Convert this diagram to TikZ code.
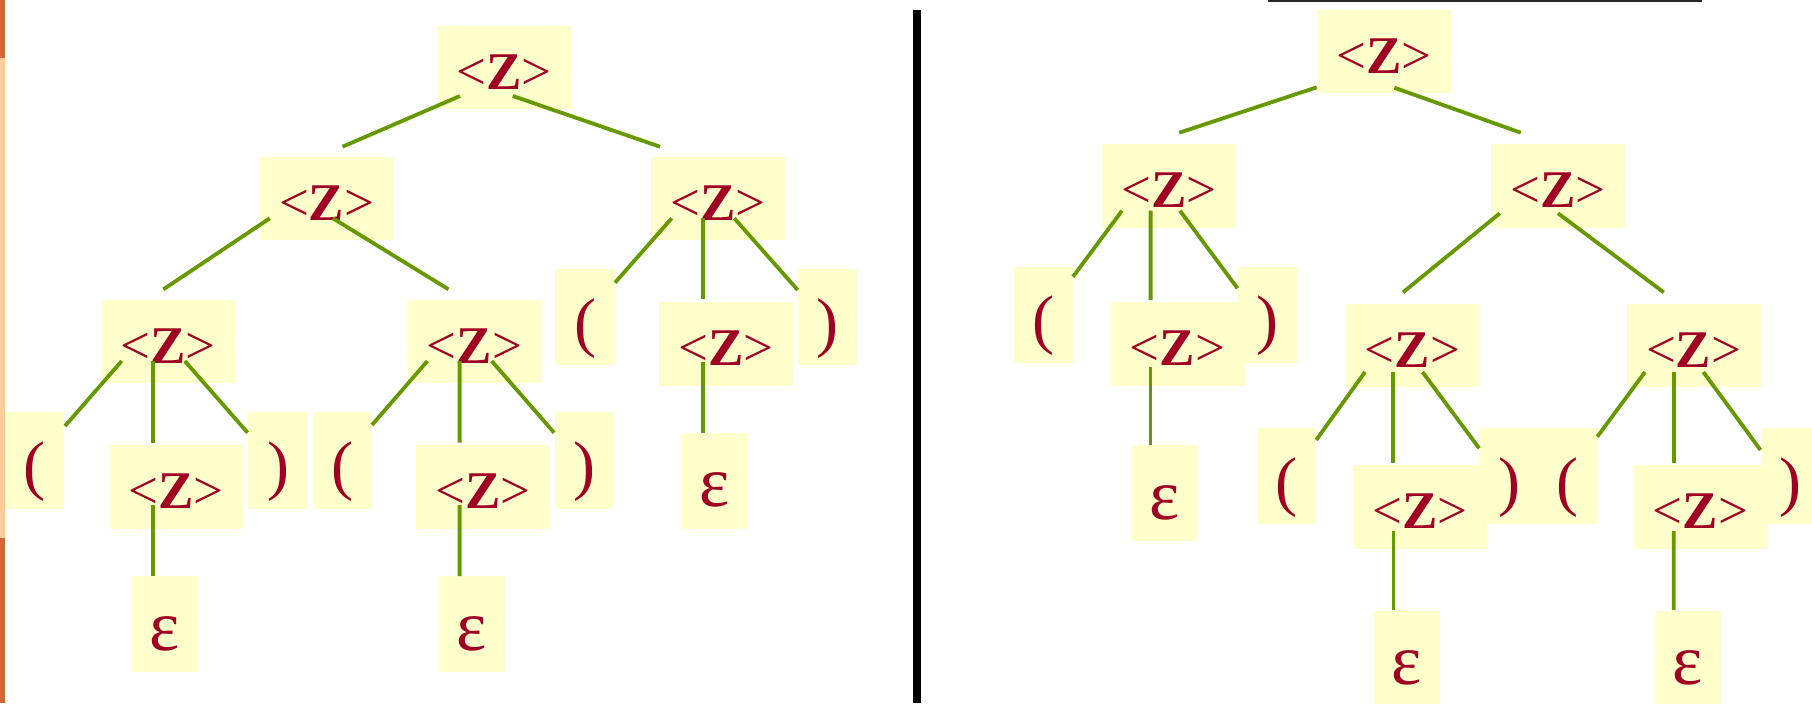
\documentclass[tikz,border=0pt]{standalone}
\usepackage{fontspec}
\setmainfont{Liberation Serif}
\usetikzlibrary{calc}
\definecolor{boxfill}{HTML}{FFFFCC}
\definecolor{textred}{HTML}{A00023}
\definecolor{edgegreen}{HTML}{669900}
\definecolor{bardark}{HTML}{CF6A38}
\definecolor{barlight}{HTML}{FFCC99}
\newcommand{\zlabel}{<\textbf{Z}>}
\begin{document}
\begin{tikzpicture}[x=0.5pt,y=-0.5pt,
  zbox/.style={fill=boxfill, inner sep=0pt, minimum width=67pt, minimum height=41.75pt,
    text height=21.7pt, text depth=0pt, text=textred, font=\fontsize{26.5pt}{30pt}\selectfont},
  pbox/.style={fill=boxfill, inner sep=0pt, minimum width=29.75pt, minimum height=48.15pt,
    text height=27pt, text depth=0pt, text=textred, font=\fontsize{33pt}{38pt}\selectfont},
  ebox/.style={fill=boxfill, inner sep=0pt, minimum width=33pt, minimum height=48.15pt,
    text height=26pt, text depth=0pt, text=textred, font=\fontsize{36pt}{40pt}\selectfont},
  edge/.style={draw=edgegreen, line width=1.9pt}]
\useasboundingbox (0,0) rectangle (1812,703);
% left bar
\fill[bardark] (0,0) rectangle (4.8,57.7);
\fill[barlight] (0,57.7) rectangle (4.8,537.7);
\fill[bardark] (0,537.7) rectangle (4.8,703);
% separators
\fill[black] (913,10) rectangle (921,703);
\draw[black!85, line width=0.85pt] (1268,0.85) -- (1702,0.85);

% ---------- left tree ----------
\node[zbox] (Lroot) at (503.8,67.7) {\zlabel};
\node[zbox] (La) at (326.6,198.3) {\zlabel};
\node[zbox] (Lb) at (717.8,198.5) {\zlabel};
\node[zbox] (Laa) at (167.8,341.7) {\zlabel};
\node[zbox] (Lab) at (474.5,341.7) {\zlabel};
\node[pbox] (Laal) at (34.6,460.5) {(};
\node[zbox] (Laam) at (176,487) {\zlabel};
\node[pbox] (Laar) at (278,460.5) {)};
\node[ebox] (Laae) at (165.1,624.2) {ε};
\node[pbox] (Labl) at (342.3,460.5) {(};
\node[zbox] (Labm) at (482.7,487) {\zlabel};
\node[pbox] (Labr) at (584.6,460.5) {)};
\node[ebox] (Labe) at (471.8,624.2) {ε};
\node[pbox] (Lbl) at (585,317.2) {(};
\node[zbox] (Lbm) at (726.3,343.8) {\zlabel};
\node[pbox] (Lbr) at (827.7,317.2) {)};
\node[ebox] (Lbe) at (714.8,480.8) {ε};

% ---------- right tree ----------
\node[zbox] (Rroot) at (1383.9,51.7) {\zlabel};
\node[zbox] (Ra) at (1169.2,185.8) {\zlabel};
\node[zbox] (Rb) at (1557.9,185.8) {\zlabel};
\node[pbox] (Ral) at (1043.3,314.7) {(};
\node[pbox] (Rar) at (1267.7,314.7) {)};
\node[zbox] (Ram) at (1177.5,344.2) {\zlabel};
\node[ebox] (Rae) at (1164.5,493.2) {ε};
\node[zbox] (Rba) at (1412.5,345.7) {\zlabel};
\node[zbox] (Rbb) at (1693.6,345.7) {\zlabel};
\node[pbox] (Rbal) at (1286.5,476.2) {(};
\node[pbox] (Rbar) at (1509.6,476.2) {)};
\node[zbox] (Rbam) at (1420.1,507.2) {\zlabel};
\node[ebox] (Rbae) at (1406.9,658.8) {ε};
\node[pbox] (Rbbl) at (1567.8,476.2) {(};
\node[pbox] (Rbbr) at (1790.4,476.2) {)};
\node[zbox] (Rbbm) at (1700.5,507.2) {\zlabel};
\node[ebox] (Rbbe) at (1687.7,658.8) {ε};

% ---------- left tree edges ----------
\draw[edge] ($(Lroot.center)+(-43.8,28.3)$) -- ($(La.center)+(15.9,-51.6)$);
\draw[edge] ($(Lroot.center)+(9,28.3)$) -- ($(Lb.center)+(-57.8,-51.8)$);
\draw[edge] ($(La.center)+(-56.8,20)$) -- ($(Laa.center)+(-4.4,-52.4)$);
\draw[edge] ($(La.center)+(6.3,20)$) -- ($(Lab.center)+(-26,-52.4)$);
\draw[edge] ($(Laa.center)+(-46.1,19.3)$) -- ($(Laal.center)+(30.4,-34.5)$);
\draw[edge] ($(Laa.center)+(-14.7,19.3)$) -- ($(Laam.center)+(-22.9,-44.3)$);
\draw[edge] ($(Laa.center)+(17,19.3)$) -- ($(Laar.center)+(-30.4,-27.8)$);
\draw[edge] ($(Lab.center)+(-47.1,19.3)$) -- ($(Labl.center)+(29.7,-35.5)$);
\draw[edge] ($(Lab.center)+(-14.9,19.3)$) -- ($(Labm.center)+(-23.1,-44.3)$);
\draw[edge] ($(Lab.center)+(17.2,19.3)$) -- ($(Labr.center)+(-30.5,-27.8)$);
\draw[edge] ($(Laam.center)+(-22.9,18)$) -- ($(Laae.center)+(-12,-48.2)$);
\draw[edge] ($(Labm.center)+(-23.1,18)$) -- ($(Labe.center)+(-12.2,-48.2)$);
\draw[edge] ($(Lb.center)+(-46.1,19.8)$) -- ($(Lbl.center)+(30,-34.5)$);
\draw[edge] ($(Lb.center)+(-14.8,19.8)$) -- ($(Lbm.center)+(-23.3,-44.5)$);
\draw[edge] ($(Lb.center)+(16.5,19.8)$) -- ($(Lbr.center)+(-30,-27.2)$);
\draw[edge] ($(Lbm.center)+(-23.3,17.9)$) -- ($(Lbe.center)+(-11.8,-48.1)$);

% ---------- right tree edges ----------
\draw[edge] ($(Rroot.center)+(-67.2,35.6)$) -- ($(Ra.center)+(10.1,-53.1)$);
\draw[edge] ($(Rroot.center)+(10.5,36)$) -- ($(Rb.center)+(-37.1,-53.1)$);
\draw[edge] ($(Ra.center)+(-47.2,24.9)$) -- ($(Ral.center)+(29.7,-38)$);
\draw[edge] ($(Ra.center)+(-18.6,24.9)$) -- ($(Ram.center)+(-26.9,-44.2)$);
\draw[edge] ($(Ra.center)+(10.8,24.9)$) -- ($(Rar.center)+(-30.2,-26.4)$);
\draw[edge] ($(Ram.center)+(-27,23.1)$) -- ($(Rae.center)+(-14,-48.2)$);
\draw[edge] ($(Rb.center)+(-58.1,27.5)$) -- ($(Rba.center)+(-9.5,-53.4)$);
\draw[edge] ($(Rb.center)+(0.1,27.5)$) -- ($(Rbb.center)+(-29.9,-53.4)$);
\draw[edge] ($(Rba.center)+(-47.5,26.3)$) -- ($(Rbal.center)+(29.7,-36.2)$);
\draw[edge] ($(Rba.center)+(-19.2,26.3)$) -- ($(Rbam.center)+(-26.8,-44.5)$);
\draw[edge] ($(Rba.center)+(10,26.3)$) -- ($(Rbar.center)+(-30.4,-27.9)$);
\draw[edge] ($(Rbb.center)+(-48.6,26.3)$) -- ($(Rbbl.center)+(29.5,-39.5)$);
\draw[edge] ($(Rbb.center)+(-19.9,26.3)$) -- ($(Rbbm.center)+(-26.8,-44.5)$);
\draw[edge] ($(Rbb.center)+(9.7,26.3)$) -- ($(Rbbr.center)+(-29.9,-26.2)$);
\draw[edge] ($(Rbam.center)+(-26.6,23.8)$) -- ($(Rbae.center)+(-13.4,-48.8)$);
\draw[edge] ($(Rbbm.center)+(-26.8,23.8)$) -- ($(Rbbe.center)+(-14,-48.8)$);
\end{tikzpicture}
\end{document}
